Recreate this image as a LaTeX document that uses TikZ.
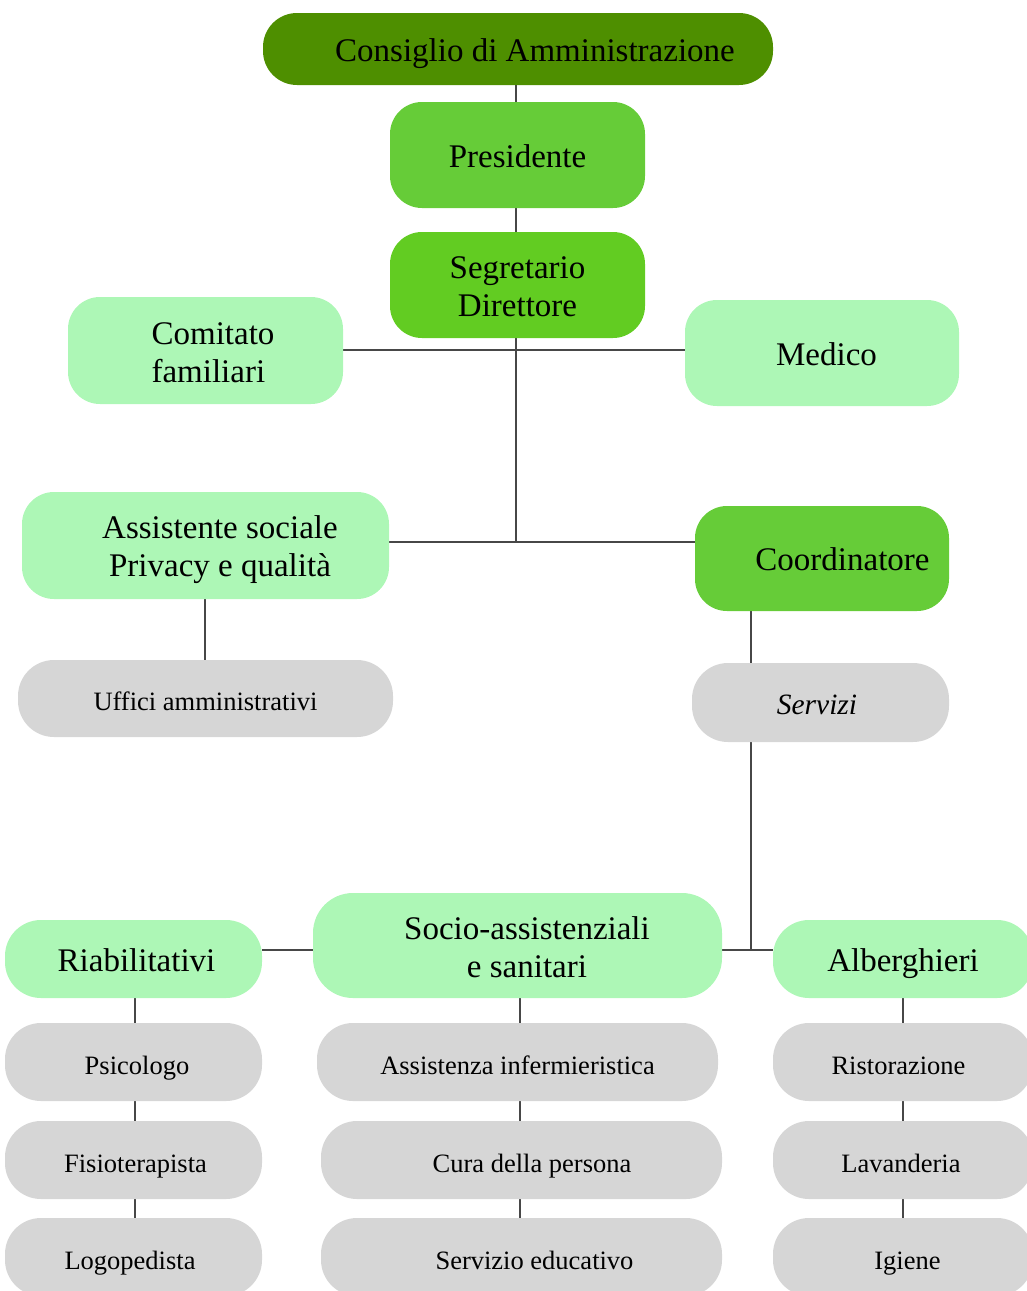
\documentclass[tikz,border=0pt]{standalone}
\usepackage{fontspec}
\setmainfont{Liberation Serif}
\usetikzlibrary{backgrounds}
\definecolor{cda}{HTML}{4E8F00}
\definecolor{gbright}{HTML}{66CC38}
\definecolor{gseg}{HTML}{62CC22}
\definecolor{glight}{HTML}{ADF7B6}
\definecolor{ggray}{HTML}{D6D6D6}
\definecolor{lnk}{HTML}{474747}
\newcommand{\lowered}[2]{\raisebox{-#1}[\height][\depth]{#2}}
\tikzset{
  box/.style={rectangle, draw=none, inner sep=0pt, text=black,
    font=\fontsize{33}{38}\selectfont, align=center},
  one/.style={text height=24pt, text depth=0pt},
  darkbox/.style={box, fill=cda, rounded corners=34pt},
  midbox/.style={box, fill=gbright, rounded corners=32pt},
  segbox/.style={box, fill=gseg, rounded corners=32pt},
  lightbox/.style={box, fill=glight, rounded corners=32pt},
  graybox/.style={box, one, fill=ggray, rounded corners=36pt,
    font=\fontsize{26.5}{32}\selectfont},
  link/.style={draw=lnk, line width=2.8pt}
}
\begin{document}
\begin{tikzpicture}[x=1pt,y=-1pt]
\useasboundingbox (0,0) rectangle (1027,1291);
\clip (0,0) rectangle (1027,1291);
% top chain
\node[darkbox, one, minimum width=510pt, minimum height=72pt] (cda) at (518,49) {\hspace*{34pt}Consiglio di Amministrazione};
\node[midbox, one, minimum width=255pt, minimum height=106pt] (pres) at (517.5,155) {Presidente};
\node[segbox, minimum width=255pt, minimum height=106pt] (seg) at (517.5,285) {\lowered{5pt}{\begin{tabular}{@{}c@{}}Segretario\\Direttore\end{tabular}}};
\node[lightbox, minimum width=275pt, minimum height=107pt] (com) at (205.5,350.5) {\hspace*{15pt}\lowered{5pt}{\begin{tabular}{@{}l@{}}Comitato\\familiari\end{tabular}}};
\node[lightbox, one, minimum width=274pt, minimum height=106pt] (med) at (822,353) {\hspace*{9pt}Medico};
\node[lightbox, minimum width=367pt, minimum height=107pt] (ass) at (205.5,545.5) {\hspace*{29pt}\lowered{4pt}{\begin{tabular}{@{}c@{}}Assistente sociale\\Privacy e qualità\end{tabular}}};
\node[midbox, one, minimum width=254pt, minimum height=105pt] (coo) at (822,558.5) {\hspace*{41pt}Coordinatore};
\node[graybox, minimum width=375pt, minimum height=77pt] (uff) at (205.5,698.5) {Uffici amministrativi};
\node[graybox, minimum width=257pt, minimum height=79pt, font=\fontsize{29.5}{34}\selectfont] (ser) at (820.5,702.5) {\hspace*{-7pt}\itshape Servizi};
% groups
\node[lightbox, one, minimum width=257pt, minimum height=78pt, rounded corners=36pt] (ria) at (133.5,959) {\hspace*{6pt}Riabilitativi};
\node[lightbox, minimum width=409pt, minimum height=105pt, rounded corners=40pt] (soc) at (517.5,945.5) {\hspace*{19pt}\lowered{5pt}{\begin{tabular}{@{}c@{}}Socio-assistenziali\\e sanitari\end{tabular}}};
\node[lightbox, one, minimum width=260pt, minimum height=78pt, rounded corners=36pt] (alb) at (903,959) {Alberghieri};
% columns
\node[graybox, minimum width=257pt, minimum height=78pt] (psi) at (133.5,1062) {\hspace*{7pt}Psicologo};
\node[graybox, minimum width=257pt, minimum height=78pt] (fis) at (133.5,1160) {\hspace*{4pt}Fisioterapista};
\node[graybox, minimum width=257pt, minimum height=78pt] (log) at (133.5,1257) {\hspace*{-7pt}Logopedista};
\node[graybox, minimum width=401pt, minimum height=78pt] (inf) at (517.5,1062) {Assistenza infermieristica};
\node[graybox, minimum width=401pt, minimum height=78pt] (cur) at (521.5,1160) {\hspace*{21pt}Cura della persona};
\node[graybox, minimum width=401pt, minimum height=78pt] (edu) at (521.5,1257) {\hspace*{26pt}Servizio educativo};
\node[graybox, minimum width=260pt, minimum height=78pt] (ris) at (903,1062) {\hspace*{-9pt}Ristorazione};
\node[graybox, minimum width=260pt, minimum height=78pt] (lav) at (903,1160) {\hspace*{-4pt}Lavanderia};
\node[graybox, minimum width=260pt, minimum height=78pt] (igi) at (903,1257) {\hspace*{9pt}Igiene};
% junctions
\coordinate (j1) at (516,350);
\coordinate (j2) at (516,542);
\coordinate (j3) at (751,950);
\coordinate (xa) at (205,0);
\coordinate (c1) at (135,0);
\coordinate (c2) at (520,0);
\coordinate (c3) at (903,0);
\begin{scope}[on background layer]
\draw[link] (cda.south -| j1) -- (pres.north -| j1);
\draw[link] (pres.south -| j1) -- (seg.north -| j1);
\draw[link] (seg.south -| j1) -- (j2);
\draw[link] (com.east |- j1) -- (med.west |- j1);
\draw[link] (ass.east |- j2) -- (coo.west |- j2);
\draw[link] (xa |- ass.south) -- (xa |- uff.north);
\draw[link] (j3 |- coo.south) -- (j3 |- ser.north);
\draw[link] (j3 |- ser.south) -- (j3);
\draw[link] (ria.east |- j3) -- (soc.west |- j3);
\draw[link] (soc.east |- j3) -- (alb.west |- j3);
\draw[link] (c1 |- ria.south) -- (c1 |- psi.north);
\draw[link] (c1 |- psi.south) -- (c1 |- fis.north);
\draw[link] (c1 |- fis.south) -- (c1 |- log.north);
\draw[link] (c2 |- soc.south) -- (c2 |- inf.north);
\draw[link] (c2 |- inf.south) -- (c2 |- cur.north);
\draw[link] (c2 |- cur.south) -- (c2 |- edu.north);
\draw[link] (c3 |- alb.south) -- (c3 |- ris.north);
\draw[link] (c3 |- ris.south) -- (c3 |- lav.north);
\draw[link] (c3 |- lav.south) -- (c3 |- igi.north);
\end{scope}
\end{tikzpicture}
\end{document}
